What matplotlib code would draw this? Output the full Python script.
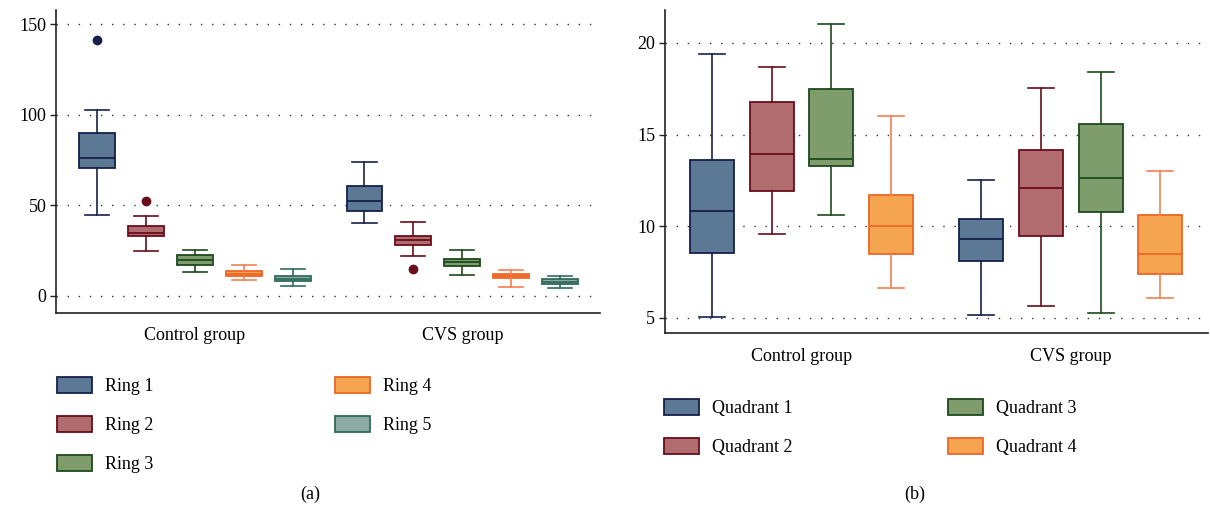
import matplotlib
matplotlib.use("Agg")
import matplotlib.pyplot as plt
from matplotlib.patches import Patch

plt.rcParams['font.family'] = ['Liberation Serif', 'DejaVu Serif']

groups = ["Control group", "CVS group"]

# five-number summaries per group: [whislo, q1, median, q3, whishi]
ring_names = ["Ring 1", "Ring 2", "Ring 3", "Ring 4", "Ring 5"]
ring1_stats = [[45.0, 70.7, 76.4, 90.3, 103.0], [40.2, 47.0, 52.7, 60.6, 74.0]]
ring2_stats = [[24.8, 33.2, 34.8, 38.6, 44.1], [21.9, 28.1, 31.2, 33.2, 40.6]]
ring3_stats = [[13.2, 17.1, 19.8, 22.6, 25.3], [11.4, 16.5, 18.7, 20.7, 25.3]]
ring4_stats = [[8.6, 11.0, 12.3, 13.6, 17.1], [5.0, 9.7, 11.0, 12.1, 14.3]]
ring5_stats = [[5.3, 8.3, 9.5, 11.0, 14.7], [4.4, 6.4, 7.9, 9.2, 10.8]]
ring1_fliers = [[141.4], []]
ring2_fliers = [[52.7], [15.1]]
ring3_fliers = [[], []]
ring4_fliers = [[], []]
ring5_fliers = [[], []]

quad_names = ["Quadrant 1", "Quadrant 2", "Quadrant 3", "Quadrant 4"]
quad1_stats = [[5.07, 8.52, 10.83, 13.63, 19.42], [5.15, 8.11, 9.30, 10.39, 12.52]]
quad2_stats = [[9.59, 11.94, 13.92, 16.77, 18.71], [5.65, 9.49, 12.10, 14.19, 17.55]]
quad3_stats = [[10.61, 13.28, 13.68, 17.49, 21.03], [5.25, 10.76, 12.61, 15.57, 18.42]]
quad4_stats = [[6.63, 8.47, 10.00, 11.71, 16.00], [6.11, 7.40, 8.50, 10.61, 13.01]]

face_colors = ["#5b7894", "#b06c6f", "#7f9c6d", "#f5a54f", "#8eaba3"]
edge_colors = ["#16204a", "#6a0d1a", "#1d4a1c", "#ef6527", "#2f6b5b"]
whisk_colors = ["#16204a", "#6a0d1a", "#1d4a1c", "#f2804f", "#2f6b5b"]

FS = 13


def draw_panel(ax, series_stats, series_fliers, offsets, width, capw):
    for i, (st, fl) in enumerate(zip(series_stats, series_fliers)):
        stats = []
        for g in range(len(groups)):
            lo, q1, med, q3, hi = st[g]
            stats.append(dict(whislo=lo, q1=q1, med=med, q3=q3, whishi=hi,
                              fliers=fl[g]))
        pos = [g + offsets[i] for g in range(len(groups))]
        ec = edge_colors[i]
        wc = whisk_colors[i]
        ax.bxp(stats, positions=pos, widths=width, capwidths=capw,
               patch_artist=True, showfliers=True, manage_ticks=False,
               boxprops=dict(facecolor=face_colors[i], edgecolor=ec, linewidth=1.3),
               medianprops=dict(color=ec, linewidth=1.3),
               whiskerprops=dict(color=wc, linewidth=1.2),
               capprops=dict(color=wc, linewidth=1.2),
               flierprops=dict(marker='o', markerfacecolor=ec, markeredgecolor=ec,
                               markersize=6, linestyle='none'),
               zorder=3)


def style_axes(ax, yticks, ylim, xpad):
    for s in ['top', 'right']:
        ax.spines[s].set_visible(False)
    for s in ['left', 'bottom']:
        ax.spines[s].set_linewidth(1.2)
        ax.spines[s].set_color('#222222')
    ax.set_yticks(yticks)
    ax.set_ylim(*ylim)
    ax.set_xticks(range(len(groups)))
    ax.set_xticklabels(groups, fontsize=FS)
    ax.tick_params(axis='x', length=0, pad=xpad)
    ax.tick_params(axis='y', length=4, width=1.0, labelsize=FS, pad=3, color='#222222')
    ax.yaxis.grid(True, linestyle=(0, (1, 7)), color='#333333', linewidth=1.0)
    ax.set_axisbelow(True)


fig = plt.figure(figsize=(12.10, 5.14), dpi=100)

# panel (a)
ax1 = fig.add_axes([56 / 1210, 1 - 313 / 514, 544 / 1210, 303 / 514])
ring_offsets = [-0.366, -0.183, 0.0, 0.183, 0.366]
draw_panel(ax1, [ring1_stats, ring2_stats, ring3_stats, ring4_stats, ring5_stats],
           [ring1_fliers, ring2_fliers, ring3_fliers, ring4_fliers, ring5_fliers],
           ring_offsets, 0.134, 0.09)
ax1.set_xlim(-0.52, 1.515)
style_axes(ax1, [0, 50, 100, 150], (-9.4, 158), 10)

# panel (b)
ax2 = fig.add_axes([665 / 1210, 1 - 333 / 514, 543 / 1210, 323 / 514])
quad_offsets = [-0.333, -0.111, 0.111, 0.333]
draw_panel(ax2, [quad1_stats, quad2_stats, quad3_stats, quad4_stats],
           [[[], []]] * 4, quad_offsets, 0.163, 0.097)
ax2.set_xlim(-0.507, 1.51)
style_axes(ax2, [5, 10, 15, 20], (4.18, 21.8), 11)


def make_handles(idx_list, names):
    return [Patch(facecolor=face_colors[i], edgecolor=edge_colors[i], linewidth=1.3,
                  label=names[i]) for i in idx_list]


def col_legend(handles, x, y):
    leg = fig.legend(handles=handles, loc='upper left', bbox_to_anchor=(x / 1210, 1 - y / 514),
                     bbox_transform=fig.transFigure, frameon=False, fontsize=FS,
                     handlelength=1.95, handleheight=1.0, handletextpad=0.7,
                     labelspacing=1.15, borderpad=0, borderaxespad=0)
    return leg


col_legend(make_handles([0, 1, 2], ring_names), 57, 377)
col_legend(make_handles([3, 4], ring_names), 335, 377)
col_legend(make_handles([0, 1], quad_names), 664, 399)
col_legend(make_handles([2, 3], quad_names), 948, 399)

fig.text(310 / 1210, 1 - 494 / 514, "(a)", ha='center', va='center', fontsize=FS)
fig.text(915 / 1210, 1 - 494 / 514, "(b)", ha='center', va='center', fontsize=FS)

fig.savefig("out.png", dpi=100)
